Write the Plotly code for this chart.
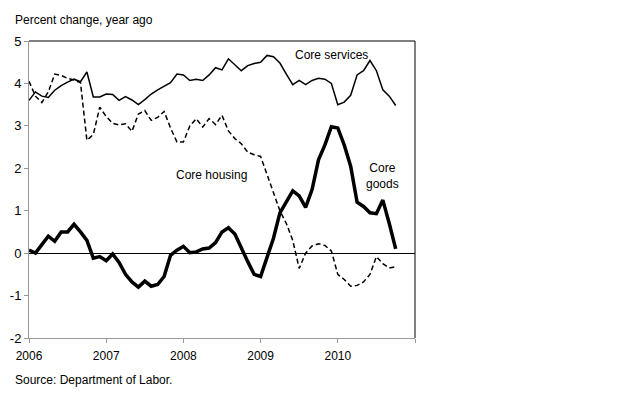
import plotly.graph_objects as go

months = [2006 + i / 12 for i in range(58)]

core_services = [3.6, 3.8, 3.7, 3.67, 3.84, 3.95, 4.03, 4.1, 4.04, 4.27,
                 3.68, 3.68, 3.75, 3.74, 3.6, 3.69, 3.61, 3.5, 3.62, 3.75,
                 3.85, 3.93, 4.02, 4.22, 4.2, 4.07, 4.1, 4.07, 4.2, 4.37,
                 4.32, 4.58, 4.44, 4.3, 4.42, 4.47, 4.5, 4.66, 4.63, 4.48,
                 4.22, 3.97, 4.07, 3.97, 4.07, 4.12, 4.1, 4.0, 3.5, 3.56,
                 3.72, 4.2, 4.3, 4.54, 4.3, 3.85, 3.7, 3.48]

core_housing = [4.05, 3.7, 3.55, 3.8, 4.22, 4.19, 4.12, 4.08, 4.02, 2.66,
                2.8, 3.44, 3.22, 3.06, 3.02, 3.05, 2.87, 3.28, 3.36, 3.13,
                3.2, 3.34, 2.95, 2.62, 2.62, 3.0, 3.17, 2.97, 3.17, 3.03,
                3.25, 2.88, 2.7, 2.58, 2.38, 2.32, 2.28, 1.85, 1.4, 1.0,
                0.7, 0.3, -0.36, 0.0, 0.17, 0.22, 0.18, 0.05, -0.5, -0.62,
                -0.78, -0.76, -0.68, -0.5, -0.08, -0.25, -0.35, -0.32]

core_goods = [0.07, 0.0, 0.2, 0.4, 0.28, 0.5, 0.5, 0.68, 0.5, 0.3,
              -0.12, -0.08, -0.18, -0.02, -0.22, -0.5, -0.68, -0.8, -0.66, -0.78,
              -0.74, -0.55, -0.05, 0.07, 0.16, 0.01, 0.03, 0.1, 0.12, 0.25,
              0.5, 0.6, 0.45, 0.1, -0.2, -0.5, -0.55, -0.1, 0.35, 0.95,
              1.2, 1.47, 1.35, 1.08, 1.5, 2.2, 2.55, 2.98, 2.95, 2.55,
              2.05, 1.2, 1.1, 0.95, 0.93, 1.25, 0.7, 0.1]

x_ticks = [2006, 2007, 2008, 2009, 2010, 2011]
x_labels = ["2006", "2007", "2008", "2009", "2010", ""]
y_ticks = [-2, -1, 0, 1, 2, 3, 4, 5]
y_labels = ["-2", "-1", "0", "1", "2", "3", "4", "5"]

FONT = "Liberation Sans, Arial, sans-serif"

fig = go.Figure()
fig.add_trace(go.Scatter(x=months, y=core_services, mode="lines",
                         line=dict(color="black", width=1.5), showlegend=False))
fig.add_trace(go.Scatter(x=months, y=core_housing, mode="lines",
                         line=dict(color="black", width=1.5, dash="5px,3px"), showlegend=False))
fig.add_trace(go.Scatter(x=months, y=core_goods, mode="lines",
                         line=dict(color="black", width=3.5), showlegend=False))

fig.update_layout(
    width=640, height=408,
    margin=dict(l=29, r=225, t=41, b=70, autoexpand=False),
    paper_bgcolor="white", plot_bgcolor="white",
    font=dict(family=FONT, size=12, color="black"),
    xaxis=dict(range=[2006, 2011], tickvals=x_ticks, ticktext=x_labels,
               automargin=False,
               showgrid=False, zeroline=False, showline=True, linecolor="#999999",
               linewidth=1, ticks="outside", ticklen=4, tickcolor="#999999",
               ticklabelstandoff=3, tickfont=dict(size=12)),
    yaxis=dict(range=[-2, 5], tickvals=y_ticks, ticktext=y_labels, showgrid=False,
               automargin=False,
               zeroline=True, zerolinecolor="black", zerolinewidth=1,
               showline=True, linecolor="#999999", linewidth=1,
               ticks="outside", ticklen=4, tickcolor="#999999",
               tickfont=dict(size=13)),
    shapes=[
        dict(type="line", xref="paper", yref="paper", x0=0, x1=1, y0=1, y1=1,
             line=dict(color="black", width=1)),
        dict(type="line", xref="paper", yref="paper", x0=1, x1=1, y0=0, y1=1,
             line=dict(color="black", width=1)),
    ],
    annotations=[
        dict(text="Percent change, year ago", xref="paper", yref="paper",
             x=-0.0415, y=1.07, xanchor="left", yanchor="middle", showarrow=False,
             font=dict(size=12)),
        dict(text="Source: Department of Labor.", xref="paper", yref="paper",
             x=-0.0415, y=-0.141, xanchor="left", yanchor="middle", showarrow=False,
             font=dict(size=12)),
        dict(text="Core services", x=2009.415, y=4.66, xanchor="left", yanchor="middle",
             showarrow=False, font=dict(size=12)),
        dict(text="Core housing", x=2007.876, y=1.84, xanchor="left", yanchor="middle",
             showarrow=False, font=dict(size=12)),
        dict(text="Core<br>goods", x=2010.58, y=1.81, xanchor="center", yanchor="middle",
             showarrow=False, font=dict(size=12)),
    ],
)

fig.write_html("out.html")
